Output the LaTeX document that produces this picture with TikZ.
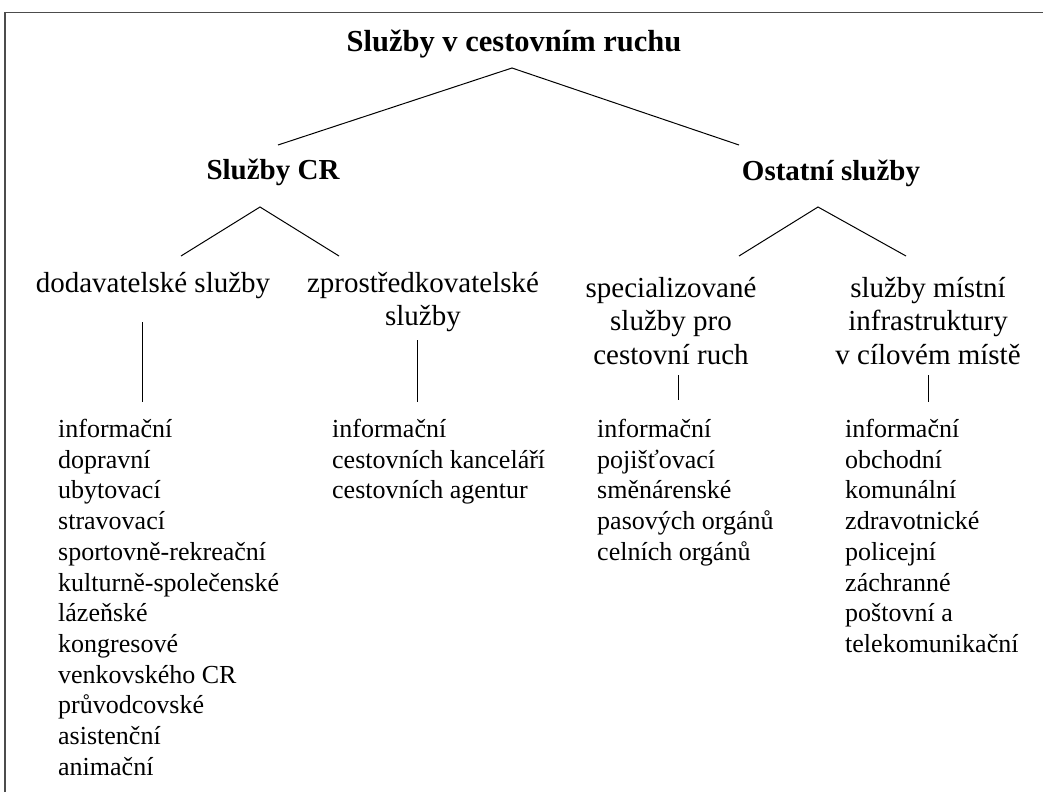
\documentclass[tikz,border=0pt]{standalone}
\usepackage{fontspec}
\setmainfont{Liberation Serif}
\begin{document}
\begin{tikzpicture}[x=1pt,y=-1pt,
  lbl/.style={inner sep=0pt, align=center, font=\fontsize{29}{33.4}\selectfont},
  head/.style={inner sep=0pt, font=\fontsize{29}{33.4}\selectfont\bfseries},
  titlestyle/.style={inner sep=0pt, font=\fontsize{30.5}{34}\selectfont\bfseries},
  lst/.style={inner sep=0pt, align=left, anchor=north west, font=\fontsize{26}{30.7}\selectfont},
  conn/.style={line width=1pt, black},
  framestyle/.style={line width=1.5pt, black!70}]
\useasboundingbox (0,0) rectangle (1043,792);
\draw[framestyle] (5,792) -- (5,12.5) -- (1043,12.5);

% level 1 and 2
\node[titlestyle] (root) at (514,44) {Služby v cestovním ruchu};
\node[head] (scr) at (273,172) {Služby CR};
\node[head] (os) at (831,173) {Ostatní služby};

\coordinate (rootJ) at (512,68);
\coordinate (scrT) at (278,145);
\coordinate (osT) at (739,145);
\draw[conn] (scrT) -- (rootJ) -- (osT);

% level 3
\node[lbl] (dod) at (153,286) {dodavatelské služby};
\node[lbl] (zpr) at (423,302) {zprostředkovatelské\\služby};
\node[lbl] (spe) at (671,321) {specializované\\služby pro\\cestovní ruch};
\node[lbl] (mis) at (928,321) {služby místní\\infrastruktury\\v cílovém místě};

\coordinate (scrJ) at (260,207);
\coordinate (dodT) at (181,256);
\coordinate (zprT) at (339,256);
\draw[conn] (dodT) -- (scrJ) -- (zprT);

\coordinate (osJ) at (818,207);
\coordinate (speT) at (739,256);
\coordinate (misT) at (906,256);
\draw[conn] (speT) -- (osJ) -- (misT);

% lists
\node[lst] (l1) at (58,419) {informační\\dopravní\\ubytovací\\stravovací\\sportovně-rekreační\\kulturně-společenské\\lázeňské\\kongresové\\venkovského CR\\průvodcovské\\asistenční\\animační};
\node[lst] (l2) at (332,419) {informační\\cestovních kanceláří\\cestovních agentur};
\node[lst] (l3) at (597,419) {informační\\pojišťovací\\směnárenské\\pasových orgánů\\celních orgánů};
\node[lst] (l4) at (845,419) {informační\\obchodní\\komunální\\zdravotnické\\policejní\\záchranné\\poštovní a\\telekomunikační};

\coordinate (dodB) at (142,322);
\coordinate (l1T) at (142,402);
\draw[conn] (dodB) -- (l1T);
\coordinate (zprB) at (417,340);
\coordinate (l2T) at (417,402);
\draw[conn] (zprB) -- (l2T);
\coordinate (speB) at (678,375);
\coordinate (l3T) at (678,400);
\draw[conn] (speB) -- (l3T);
\coordinate (misB) at (928,375);
\coordinate (l4T) at (928,402);
\draw[conn] (misB) -- (l4T);
\end{tikzpicture}
\end{document}
